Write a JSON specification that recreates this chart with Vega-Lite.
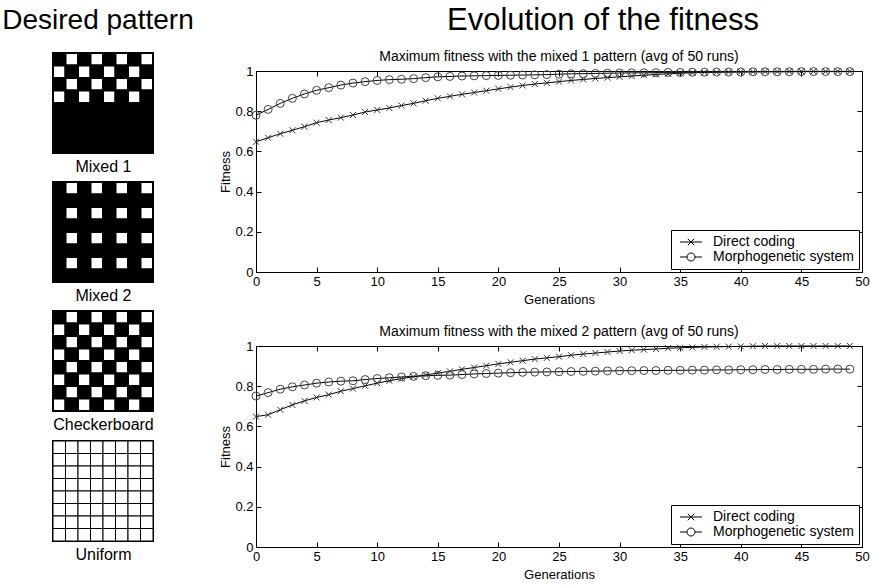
{
  "$schema": "https://vega.github.io/schema/vega-lite/v6.json",
  "background": "white",
  "padding": {"left": 2, "top": 4, "right": 0, "bottom": 0},
  "config": {
    "font": "Liberation Sans",
    "view": {"stroke": "black", "strokeWidth": 1},
    "axis": {"domainColor": "black", "tickColor": "black", "labelColor": "black", "titleColor": "black", "labelFontSize": 13, "titleFontSize": 13, "titleFontWeight": "normal", "grid": false, "tickSize": -5, "labelPadding": 8, "titlePadding": 5, "labelFlush": false},
    "title": {"color": "black", "fontWeight": "normal"}
  },
  "datasets": {
    "titles": [{"t": "Desired pattern", "col": "left"}, {"t": "Evolution of the fitness", "col": "right"}],
    "patterns": [
      {"p":"m1","r":0,"c":0,"v":"b"},{"p":"m1","r":0,"c":1,"v":"w"},{"p":"m1","r":0,"c":2,"v":"b"},{"p":"m1","r":0,"c":3,"v":"w"},{"p":"m1","r":0,"c":4,"v":"b"},{"p":"m1","r":0,"c":5,"v":"w"},{"p":"m1","r":0,"c":6,"v":"b"},{"p":"m1","r":0,"c":7,"v":"w"},
      {"p":"m1","r":1,"c":0,"v":"w"},{"p":"m1","r":1,"c":1,"v":"b"},{"p":"m1","r":1,"c":2,"v":"w"},{"p":"m1","r":1,"c":3,"v":"b"},{"p":"m1","r":1,"c":4,"v":"w"},{"p":"m1","r":1,"c":5,"v":"b"},{"p":"m1","r":1,"c":6,"v":"w"},{"p":"m1","r":1,"c":7,"v":"b"},
      {"p":"m1","r":2,"c":0,"v":"b"},{"p":"m1","r":2,"c":1,"v":"w"},{"p":"m1","r":2,"c":2,"v":"b"},{"p":"m1","r":2,"c":3,"v":"w"},{"p":"m1","r":2,"c":4,"v":"b"},{"p":"m1","r":2,"c":5,"v":"w"},{"p":"m1","r":2,"c":6,"v":"b"},{"p":"m1","r":2,"c":7,"v":"w"},
      {"p":"m1","r":3,"c":0,"v":"w"},{"p":"m1","r":3,"c":1,"v":"b"},{"p":"m1","r":3,"c":2,"v":"w"},{"p":"m1","r":3,"c":3,"v":"b"},{"p":"m1","r":3,"c":4,"v":"w"},{"p":"m1","r":3,"c":5,"v":"b"},{"p":"m1","r":3,"c":6,"v":"w"},{"p":"m1","r":3,"c":7,"v":"b"},
      {"p":"m1","r":4,"c":0,"v":"b"},{"p":"m1","r":4,"c":1,"v":"b"},{"p":"m1","r":4,"c":2,"v":"b"},{"p":"m1","r":4,"c":3,"v":"b"},{"p":"m1","r":4,"c":4,"v":"b"},{"p":"m1","r":4,"c":5,"v":"b"},{"p":"m1","r":4,"c":6,"v":"b"},{"p":"m1","r":4,"c":7,"v":"b"},
      {"p":"m1","r":5,"c":0,"v":"b"},{"p":"m1","r":5,"c":1,"v":"b"},{"p":"m1","r":5,"c":2,"v":"b"},{"p":"m1","r":5,"c":3,"v":"b"},{"p":"m1","r":5,"c":4,"v":"b"},{"p":"m1","r":5,"c":5,"v":"b"},{"p":"m1","r":5,"c":6,"v":"b"},{"p":"m1","r":5,"c":7,"v":"b"},
      {"p":"m1","r":6,"c":0,"v":"b"},{"p":"m1","r":6,"c":1,"v":"b"},{"p":"m1","r":6,"c":2,"v":"b"},{"p":"m1","r":6,"c":3,"v":"b"},{"p":"m1","r":6,"c":4,"v":"b"},{"p":"m1","r":6,"c":5,"v":"b"},{"p":"m1","r":6,"c":6,"v":"b"},{"p":"m1","r":6,"c":7,"v":"b"},
      {"p":"m1","r":7,"c":0,"v":"b"},{"p":"m1","r":7,"c":1,"v":"b"},{"p":"m1","r":7,"c":2,"v":"b"},{"p":"m1","r":7,"c":3,"v":"b"},{"p":"m1","r":7,"c":4,"v":"b"},{"p":"m1","r":7,"c":5,"v":"b"},{"p":"m1","r":7,"c":6,"v":"b"},{"p":"m1","r":7,"c":7,"v":"b"},
      {"p":"m2","r":0,"c":0,"v":"b"},{"p":"m2","r":0,"c":1,"v":"w"},{"p":"m2","r":0,"c":2,"v":"b"},{"p":"m2","r":0,"c":3,"v":"w"},{"p":"m2","r":0,"c":4,"v":"b"},{"p":"m2","r":0,"c":5,"v":"w"},{"p":"m2","r":0,"c":6,"v":"b"},{"p":"m2","r":0,"c":7,"v":"w"},
      {"p":"m2","r":1,"c":0,"v":"b"},{"p":"m2","r":1,"c":1,"v":"b"},{"p":"m2","r":1,"c":2,"v":"b"},{"p":"m2","r":1,"c":3,"v":"b"},{"p":"m2","r":1,"c":4,"v":"b"},{"p":"m2","r":1,"c":5,"v":"b"},{"p":"m2","r":1,"c":6,"v":"b"},{"p":"m2","r":1,"c":7,"v":"b"},
      {"p":"m2","r":2,"c":0,"v":"b"},{"p":"m2","r":2,"c":1,"v":"w"},{"p":"m2","r":2,"c":2,"v":"b"},{"p":"m2","r":2,"c":3,"v":"w"},{"p":"m2","r":2,"c":4,"v":"b"},{"p":"m2","r":2,"c":5,"v":"w"},{"p":"m2","r":2,"c":6,"v":"b"},{"p":"m2","r":2,"c":7,"v":"w"},
      {"p":"m2","r":3,"c":0,"v":"b"},{"p":"m2","r":3,"c":1,"v":"b"},{"p":"m2","r":3,"c":2,"v":"b"},{"p":"m2","r":3,"c":3,"v":"b"},{"p":"m2","r":3,"c":4,"v":"b"},{"p":"m2","r":3,"c":5,"v":"b"},{"p":"m2","r":3,"c":6,"v":"b"},{"p":"m2","r":3,"c":7,"v":"b"},
      {"p":"m2","r":4,"c":0,"v":"b"},{"p":"m2","r":4,"c":1,"v":"w"},{"p":"m2","r":4,"c":2,"v":"b"},{"p":"m2","r":4,"c":3,"v":"w"},{"p":"m2","r":4,"c":4,"v":"b"},{"p":"m2","r":4,"c":5,"v":"w"},{"p":"m2","r":4,"c":6,"v":"b"},{"p":"m2","r":4,"c":7,"v":"w"},
      {"p":"m2","r":5,"c":0,"v":"b"},{"p":"m2","r":5,"c":1,"v":"b"},{"p":"m2","r":5,"c":2,"v":"b"},{"p":"m2","r":5,"c":3,"v":"b"},{"p":"m2","r":5,"c":4,"v":"b"},{"p":"m2","r":5,"c":5,"v":"b"},{"p":"m2","r":5,"c":6,"v":"b"},{"p":"m2","r":5,"c":7,"v":"b"},
      {"p":"m2","r":6,"c":0,"v":"b"},{"p":"m2","r":6,"c":1,"v":"w"},{"p":"m2","r":6,"c":2,"v":"b"},{"p":"m2","r":6,"c":3,"v":"w"},{"p":"m2","r":6,"c":4,"v":"b"},{"p":"m2","r":6,"c":5,"v":"w"},{"p":"m2","r":6,"c":6,"v":"b"},{"p":"m2","r":6,"c":7,"v":"w"},
      {"p":"m2","r":7,"c":0,"v":"b"},{"p":"m2","r":7,"c":1,"v":"b"},{"p":"m2","r":7,"c":2,"v":"b"},{"p":"m2","r":7,"c":3,"v":"b"},{"p":"m2","r":7,"c":4,"v":"b"},{"p":"m2","r":7,"c":5,"v":"b"},{"p":"m2","r":7,"c":6,"v":"b"},{"p":"m2","r":7,"c":7,"v":"b"},
      {"p":"cb","r":0,"c":0,"v":"b"},{"p":"cb","r":0,"c":1,"v":"w"},{"p":"cb","r":0,"c":2,"v":"b"},{"p":"cb","r":0,"c":3,"v":"w"},{"p":"cb","r":0,"c":4,"v":"b"},{"p":"cb","r":0,"c":5,"v":"w"},{"p":"cb","r":0,"c":6,"v":"b"},{"p":"cb","r":0,"c":7,"v":"w"},
      {"p":"cb","r":1,"c":0,"v":"w"},{"p":"cb","r":1,"c":1,"v":"b"},{"p":"cb","r":1,"c":2,"v":"w"},{"p":"cb","r":1,"c":3,"v":"b"},{"p":"cb","r":1,"c":4,"v":"w"},{"p":"cb","r":1,"c":5,"v":"b"},{"p":"cb","r":1,"c":6,"v":"w"},{"p":"cb","r":1,"c":7,"v":"b"},
      {"p":"cb","r":2,"c":0,"v":"b"},{"p":"cb","r":2,"c":1,"v":"w"},{"p":"cb","r":2,"c":2,"v":"b"},{"p":"cb","r":2,"c":3,"v":"w"},{"p":"cb","r":2,"c":4,"v":"b"},{"p":"cb","r":2,"c":5,"v":"w"},{"p":"cb","r":2,"c":6,"v":"b"},{"p":"cb","r":2,"c":7,"v":"w"},
      {"p":"cb","r":3,"c":0,"v":"w"},{"p":"cb","r":3,"c":1,"v":"b"},{"p":"cb","r":3,"c":2,"v":"w"},{"p":"cb","r":3,"c":3,"v":"b"},{"p":"cb","r":3,"c":4,"v":"w"},{"p":"cb","r":3,"c":5,"v":"b"},{"p":"cb","r":3,"c":6,"v":"w"},{"p":"cb","r":3,"c":7,"v":"b"},
      {"p":"cb","r":4,"c":0,"v":"b"},{"p":"cb","r":4,"c":1,"v":"w"},{"p":"cb","r":4,"c":2,"v":"b"},{"p":"cb","r":4,"c":3,"v":"w"},{"p":"cb","r":4,"c":4,"v":"b"},{"p":"cb","r":4,"c":5,"v":"w"},{"p":"cb","r":4,"c":6,"v":"b"},{"p":"cb","r":4,"c":7,"v":"w"},
      {"p":"cb","r":5,"c":0,"v":"w"},{"p":"cb","r":5,"c":1,"v":"b"},{"p":"cb","r":5,"c":2,"v":"w"},{"p":"cb","r":5,"c":3,"v":"b"},{"p":"cb","r":5,"c":4,"v":"w"},{"p":"cb","r":5,"c":5,"v":"b"},{"p":"cb","r":5,"c":6,"v":"w"},{"p":"cb","r":5,"c":7,"v":"b"},
      {"p":"cb","r":6,"c":0,"v":"b"},{"p":"cb","r":6,"c":1,"v":"w"},{"p":"cb","r":6,"c":2,"v":"b"},{"p":"cb","r":6,"c":3,"v":"w"},{"p":"cb","r":6,"c":4,"v":"b"},{"p":"cb","r":6,"c":5,"v":"w"},{"p":"cb","r":6,"c":6,"v":"b"},{"p":"cb","r":6,"c":7,"v":"w"},
      {"p":"cb","r":7,"c":0,"v":"w"},{"p":"cb","r":7,"c":1,"v":"b"},{"p":"cb","r":7,"c":2,"v":"w"},{"p":"cb","r":7,"c":3,"v":"b"},{"p":"cb","r":7,"c":4,"v":"w"},{"p":"cb","r":7,"c":5,"v":"b"},{"p":"cb","r":7,"c":6,"v":"w"},{"p":"cb","r":7,"c":7,"v":"b"},
      {"p":"u","r":0,"c":0,"v":"w"},{"p":"u","r":0,"c":1,"v":"w"},{"p":"u","r":0,"c":2,"v":"w"},{"p":"u","r":0,"c":3,"v":"w"},{"p":"u","r":0,"c":4,"v":"w"},{"p":"u","r":0,"c":5,"v":"w"},{"p":"u","r":0,"c":6,"v":"w"},{"p":"u","r":0,"c":7,"v":"w"},
      {"p":"u","r":1,"c":0,"v":"w"},{"p":"u","r":1,"c":1,"v":"w"},{"p":"u","r":1,"c":2,"v":"w"},{"p":"u","r":1,"c":3,"v":"w"},{"p":"u","r":1,"c":4,"v":"w"},{"p":"u","r":1,"c":5,"v":"w"},{"p":"u","r":1,"c":6,"v":"w"},{"p":"u","r":1,"c":7,"v":"w"},
      {"p":"u","r":2,"c":0,"v":"w"},{"p":"u","r":2,"c":1,"v":"w"},{"p":"u","r":2,"c":2,"v":"w"},{"p":"u","r":2,"c":3,"v":"w"},{"p":"u","r":2,"c":4,"v":"w"},{"p":"u","r":2,"c":5,"v":"w"},{"p":"u","r":2,"c":6,"v":"w"},{"p":"u","r":2,"c":7,"v":"w"},
      {"p":"u","r":3,"c":0,"v":"w"},{"p":"u","r":3,"c":1,"v":"w"},{"p":"u","r":3,"c":2,"v":"w"},{"p":"u","r":3,"c":3,"v":"w"},{"p":"u","r":3,"c":4,"v":"w"},{"p":"u","r":3,"c":5,"v":"w"},{"p":"u","r":3,"c":6,"v":"w"},{"p":"u","r":3,"c":7,"v":"w"},
      {"p":"u","r":4,"c":0,"v":"w"},{"p":"u","r":4,"c":1,"v":"w"},{"p":"u","r":4,"c":2,"v":"w"},{"p":"u","r":4,"c":3,"v":"w"},{"p":"u","r":4,"c":4,"v":"w"},{"p":"u","r":4,"c":5,"v":"w"},{"p":"u","r":4,"c":6,"v":"w"},{"p":"u","r":4,"c":7,"v":"w"},
      {"p":"u","r":5,"c":0,"v":"w"},{"p":"u","r":5,"c":1,"v":"w"},{"p":"u","r":5,"c":2,"v":"w"},{"p":"u","r":5,"c":3,"v":"w"},{"p":"u","r":5,"c":4,"v":"w"},{"p":"u","r":5,"c":5,"v":"w"},{"p":"u","r":5,"c":6,"v":"w"},{"p":"u","r":5,"c":7,"v":"w"},
      {"p":"u","r":6,"c":0,"v":"w"},{"p":"u","r":6,"c":1,"v":"w"},{"p":"u","r":6,"c":2,"v":"w"},{"p":"u","r":6,"c":3,"v":"w"},{"p":"u","r":6,"c":4,"v":"w"},{"p":"u","r":6,"c":5,"v":"w"},{"p":"u","r":6,"c":6,"v":"w"},{"p":"u","r":6,"c":7,"v":"w"},
      {"p":"u","r":7,"c":0,"v":"w"},{"p":"u","r":7,"c":1,"v":"w"},{"p":"u","r":7,"c":2,"v":"w"},{"p":"u","r":7,"c":3,"v":"w"},{"p":"u","r":7,"c":4,"v":"w"},{"p":"u","r":7,"c":5,"v":"w"},{"p":"u","r":7,"c":6,"v":"w"},{"p":"u","r":7,"c":7,"v":"w"}
    ],
    "fitness": [
      {"chart":1,"series":"Direct coding","gen":0,"fitness":0.648},{"chart":1,"series":"Direct coding","gen":1,"fitness":0.668},{"chart":1,"series":"Direct coding","gen":2,"fitness":0.688},{"chart":1,"series":"Direct coding","gen":3,"fitness":0.705},{"chart":1,"series":"Direct coding","gen":4,"fitness":0.723},
      {"chart":1,"series":"Direct coding","gen":5,"fitness":0.743},{"chart":1,"series":"Direct coding","gen":6,"fitness":0.756},{"chart":1,"series":"Direct coding","gen":7,"fitness":0.768},{"chart":1,"series":"Direct coding","gen":8,"fitness":0.781},{"chart":1,"series":"Direct coding","gen":9,"fitness":0.796},
      {"chart":1,"series":"Direct coding","gen":10,"fitness":0.806},{"chart":1,"series":"Direct coding","gen":11,"fitness":0.816},{"chart":1,"series":"Direct coding","gen":12,"fitness":0.828},{"chart":1,"series":"Direct coding","gen":13,"fitness":0.839},{"chart":1,"series":"Direct coding","gen":14,"fitness":0.852},
      {"chart":1,"series":"Direct coding","gen":15,"fitness":0.864},{"chart":1,"series":"Direct coding","gen":16,"fitness":0.874},{"chart":1,"series":"Direct coding","gen":17,"fitness":0.884},{"chart":1,"series":"Direct coding","gen":18,"fitness":0.893},{"chart":1,"series":"Direct coding","gen":19,"fitness":0.902},
      {"chart":1,"series":"Direct coding","gen":20,"fitness":0.911},{"chart":1,"series":"Direct coding","gen":21,"fitness":0.92},{"chart":1,"series":"Direct coding","gen":22,"fitness":0.928},{"chart":1,"series":"Direct coding","gen":23,"fitness":0.935},{"chart":1,"series":"Direct coding","gen":24,"fitness":0.941},
      {"chart":1,"series":"Direct coding","gen":25,"fitness":0.947},{"chart":1,"series":"Direct coding","gen":26,"fitness":0.953},{"chart":1,"series":"Direct coding","gen":27,"fitness":0.958},{"chart":1,"series":"Direct coding","gen":28,"fitness":0.963},{"chart":1,"series":"Direct coding","gen":29,"fitness":0.967},
      {"chart":1,"series":"Direct coding","gen":30,"fitness":0.971},{"chart":1,"series":"Direct coding","gen":31,"fitness":0.975},{"chart":1,"series":"Direct coding","gen":32,"fitness":0.979},{"chart":1,"series":"Direct coding","gen":33,"fitness":0.983},{"chart":1,"series":"Direct coding","gen":34,"fitness":0.986},
      {"chart":1,"series":"Direct coding","gen":35,"fitness":0.989},{"chart":1,"series":"Direct coding","gen":36,"fitness":0.991},{"chart":1,"series":"Direct coding","gen":37,"fitness":0.993},{"chart":1,"series":"Direct coding","gen":38,"fitness":0.994},{"chart":1,"series":"Direct coding","gen":39,"fitness":0.995},
      {"chart":1,"series":"Direct coding","gen":40,"fitness":0.996},{"chart":1,"series":"Direct coding","gen":41,"fitness":0.996},{"chart":1,"series":"Direct coding","gen":42,"fitness":0.997},{"chart":1,"series":"Direct coding","gen":43,"fitness":0.997},{"chart":1,"series":"Direct coding","gen":44,"fitness":0.998},
      {"chart":1,"series":"Direct coding","gen":45,"fitness":0.998},{"chart":1,"series":"Direct coding","gen":46,"fitness":0.998},{"chart":1,"series":"Direct coding","gen":47,"fitness":0.998},{"chart":1,"series":"Direct coding","gen":48,"fitness":0.998},{"chart":1,"series":"Direct coding","gen":49,"fitness":0.998},
      {"chart":1,"series":"Morphogenetic system","gen":0,"fitness":0.78},{"chart":1,"series":"Morphogenetic system","gen":1,"fitness":0.809},{"chart":1,"series":"Morphogenetic system","gen":2,"fitness":0.839},{"chart":1,"series":"Morphogenetic system","gen":3,"fitness":0.864},{"chart":1,"series":"Morphogenetic system","gen":4,"fitness":0.886},
      {"chart":1,"series":"Morphogenetic system","gen":5,"fitness":0.904},{"chart":1,"series":"Morphogenetic system","gen":6,"fitness":0.917},{"chart":1,"series":"Morphogenetic system","gen":7,"fitness":0.93},{"chart":1,"series":"Morphogenetic system","gen":8,"fitness":0.94},{"chart":1,"series":"Morphogenetic system","gen":9,"fitness":0.947},
      {"chart":1,"series":"Morphogenetic system","gen":10,"fitness":0.953},{"chart":1,"series":"Morphogenetic system","gen":11,"fitness":0.957},{"chart":1,"series":"Morphogenetic system","gen":12,"fitness":0.959},{"chart":1,"series":"Morphogenetic system","gen":13,"fitness":0.962},{"chart":1,"series":"Morphogenetic system","gen":14,"fitness":0.967},
      {"chart":1,"series":"Morphogenetic system","gen":15,"fitness":0.971},{"chart":1,"series":"Morphogenetic system","gen":16,"fitness":0.973},{"chart":1,"series":"Morphogenetic system","gen":17,"fitness":0.975},{"chart":1,"series":"Morphogenetic system","gen":18,"fitness":0.976},{"chart":1,"series":"Morphogenetic system","gen":19,"fitness":0.977},
      {"chart":1,"series":"Morphogenetic system","gen":20,"fitness":0.978},{"chart":1,"series":"Morphogenetic system","gen":21,"fitness":0.979},{"chart":1,"series":"Morphogenetic system","gen":22,"fitness":0.98},{"chart":1,"series":"Morphogenetic system","gen":23,"fitness":0.981},{"chart":1,"series":"Morphogenetic system","gen":24,"fitness":0.982},
      {"chart":1,"series":"Morphogenetic system","gen":25,"fitness":0.984},{"chart":1,"series":"Morphogenetic system","gen":26,"fitness":0.986},{"chart":1,"series":"Morphogenetic system","gen":27,"fitness":0.987},{"chart":1,"series":"Morphogenetic system","gen":28,"fitness":0.988},{"chart":1,"series":"Morphogenetic system","gen":29,"fitness":0.989},
      {"chart":1,"series":"Morphogenetic system","gen":30,"fitness":0.99},{"chart":1,"series":"Morphogenetic system","gen":31,"fitness":0.991},{"chart":1,"series":"Morphogenetic system","gen":32,"fitness":0.991},{"chart":1,"series":"Morphogenetic system","gen":33,"fitness":0.992},{"chart":1,"series":"Morphogenetic system","gen":34,"fitness":0.993},
      {"chart":1,"series":"Morphogenetic system","gen":35,"fitness":0.993},{"chart":1,"series":"Morphogenetic system","gen":36,"fitness":0.994},{"chart":1,"series":"Morphogenetic system","gen":37,"fitness":0.994},{"chart":1,"series":"Morphogenetic system","gen":38,"fitness":0.995},{"chart":1,"series":"Morphogenetic system","gen":39,"fitness":0.995},
      {"chart":1,"series":"Morphogenetic system","gen":40,"fitness":0.995},{"chart":1,"series":"Morphogenetic system","gen":41,"fitness":0.996},{"chart":1,"series":"Morphogenetic system","gen":42,"fitness":0.996},{"chart":1,"series":"Morphogenetic system","gen":43,"fitness":0.996},{"chart":1,"series":"Morphogenetic system","gen":44,"fitness":0.996},
      {"chart":1,"series":"Morphogenetic system","gen":45,"fitness":0.997},{"chart":1,"series":"Morphogenetic system","gen":46,"fitness":0.997},{"chart":1,"series":"Morphogenetic system","gen":47,"fitness":0.997},{"chart":1,"series":"Morphogenetic system","gen":48,"fitness":0.997},{"chart":1,"series":"Morphogenetic system","gen":49,"fitness":0.997},
      {"chart":2,"series":"Direct coding","gen":0,"fitness":0.649},{"chart":2,"series":"Direct coding","gen":1,"fitness":0.658},{"chart":2,"series":"Direct coding","gen":2,"fitness":0.683},{"chart":2,"series":"Direct coding","gen":3,"fitness":0.707},{"chart":2,"series":"Direct coding","gen":4,"fitness":0.727},
      {"chart":2,"series":"Direct coding","gen":5,"fitness":0.744},{"chart":2,"series":"Direct coding","gen":6,"fitness":0.758},{"chart":2,"series":"Direct coding","gen":7,"fitness":0.775},{"chart":2,"series":"Direct coding","gen":8,"fitness":0.788},{"chart":2,"series":"Direct coding","gen":9,"fitness":0.802},
      {"chart":2,"series":"Direct coding","gen":10,"fitness":0.815},{"chart":2,"series":"Direct coding","gen":11,"fitness":0.827},{"chart":2,"series":"Direct coding","gen":12,"fitness":0.838},{"chart":2,"series":"Direct coding","gen":13,"fitness":0.847},{"chart":2,"series":"Direct coding","gen":14,"fitness":0.856},
      {"chart":2,"series":"Direct coding","gen":15,"fitness":0.865},{"chart":2,"series":"Direct coding","gen":16,"fitness":0.874},{"chart":2,"series":"Direct coding","gen":17,"fitness":0.884},{"chart":2,"series":"Direct coding","gen":18,"fitness":0.893},{"chart":2,"series":"Direct coding","gen":19,"fitness":0.902},
      {"chart":2,"series":"Direct coding","gen":20,"fitness":0.911},{"chart":2,"series":"Direct coding","gen":21,"fitness":0.919},{"chart":2,"series":"Direct coding","gen":22,"fitness":0.927},{"chart":2,"series":"Direct coding","gen":23,"fitness":0.935},{"chart":2,"series":"Direct coding","gen":24,"fitness":0.941},
      {"chart":2,"series":"Direct coding","gen":25,"fitness":0.947},{"chart":2,"series":"Direct coding","gen":26,"fitness":0.954},{"chart":2,"series":"Direct coding","gen":27,"fitness":0.96},{"chart":2,"series":"Direct coding","gen":28,"fitness":0.965},{"chart":2,"series":"Direct coding","gen":29,"fitness":0.97},
      {"chart":2,"series":"Direct coding","gen":30,"fitness":0.975},{"chart":2,"series":"Direct coding","gen":31,"fitness":0.979},{"chart":2,"series":"Direct coding","gen":32,"fitness":0.982},{"chart":2,"series":"Direct coding","gen":33,"fitness":0.985},{"chart":2,"series":"Direct coding","gen":34,"fitness":0.989},
      {"chart":2,"series":"Direct coding","gen":35,"fitness":0.991},{"chart":2,"series":"Direct coding","gen":36,"fitness":0.993},{"chart":2,"series":"Direct coding","gen":37,"fitness":0.995},{"chart":2,"series":"Direct coding","gen":38,"fitness":0.996},{"chart":2,"series":"Direct coding","gen":39,"fitness":0.997},
      {"chart":2,"series":"Direct coding","gen":40,"fitness":0.998},{"chart":2,"series":"Direct coding","gen":41,"fitness":0.999},{"chart":2,"series":"Direct coding","gen":42,"fitness":1.0},{"chart":2,"series":"Direct coding","gen":43,"fitness":1.0},{"chart":2,"series":"Direct coding","gen":44,"fitness":1.0},
      {"chart":2,"series":"Direct coding","gen":45,"fitness":1.0},{"chart":2,"series":"Direct coding","gen":46,"fitness":1.0},{"chart":2,"series":"Direct coding","gen":47,"fitness":1.0},{"chart":2,"series":"Direct coding","gen":48,"fitness":1.0},{"chart":2,"series":"Direct coding","gen":49,"fitness":1.0},
      {"chart":2,"series":"Morphogenetic system","gen":0,"fitness":0.751},{"chart":2,"series":"Morphogenetic system","gen":1,"fitness":0.768},{"chart":2,"series":"Morphogenetic system","gen":2,"fitness":0.785},{"chart":2,"series":"Morphogenetic system","gen":3,"fitness":0.797},{"chart":2,"series":"Morphogenetic system","gen":4,"fitness":0.806},
      {"chart":2,"series":"Morphogenetic system","gen":5,"fitness":0.815},{"chart":2,"series":"Morphogenetic system","gen":6,"fitness":0.821},{"chart":2,"series":"Morphogenetic system","gen":7,"fitness":0.825},{"chart":2,"series":"Morphogenetic system","gen":8,"fitness":0.827},{"chart":2,"series":"Morphogenetic system","gen":9,"fitness":0.833},
      {"chart":2,"series":"Morphogenetic system","gen":10,"fitness":0.838},{"chart":2,"series":"Morphogenetic system","gen":11,"fitness":0.842},{"chart":2,"series":"Morphogenetic system","gen":12,"fitness":0.846},{"chart":2,"series":"Morphogenetic system","gen":13,"fitness":0.849},{"chart":2,"series":"Morphogenetic system","gen":14,"fitness":0.852},
      {"chart":2,"series":"Morphogenetic system","gen":15,"fitness":0.854},{"chart":2,"series":"Morphogenetic system","gen":16,"fitness":0.855},{"chart":2,"series":"Morphogenetic system","gen":17,"fitness":0.858},{"chart":2,"series":"Morphogenetic system","gen":18,"fitness":0.861},{"chart":2,"series":"Morphogenetic system","gen":19,"fitness":0.863},
      {"chart":2,"series":"Morphogenetic system","gen":20,"fitness":0.865},{"chart":2,"series":"Morphogenetic system","gen":21,"fitness":0.867},{"chart":2,"series":"Morphogenetic system","gen":22,"fitness":0.869},{"chart":2,"series":"Morphogenetic system","gen":23,"fitness":0.87},{"chart":2,"series":"Morphogenetic system","gen":24,"fitness":0.871},
      {"chart":2,"series":"Morphogenetic system","gen":25,"fitness":0.872},{"chart":2,"series":"Morphogenetic system","gen":26,"fitness":0.873},{"chart":2,"series":"Morphogenetic system","gen":27,"fitness":0.874},{"chart":2,"series":"Morphogenetic system","gen":28,"fitness":0.875},{"chart":2,"series":"Morphogenetic system","gen":29,"fitness":0.876},
      {"chart":2,"series":"Morphogenetic system","gen":30,"fitness":0.877},{"chart":2,"series":"Morphogenetic system","gen":31,"fitness":0.877},{"chart":2,"series":"Morphogenetic system","gen":32,"fitness":0.878},{"chart":2,"series":"Morphogenetic system","gen":33,"fitness":0.878},{"chart":2,"series":"Morphogenetic system","gen":34,"fitness":0.879},
      {"chart":2,"series":"Morphogenetic system","gen":35,"fitness":0.879},{"chart":2,"series":"Morphogenetic system","gen":36,"fitness":0.88},{"chart":2,"series":"Morphogenetic system","gen":37,"fitness":0.88},{"chart":2,"series":"Morphogenetic system","gen":38,"fitness":0.881},{"chart":2,"series":"Morphogenetic system","gen":39,"fitness":0.881},
      {"chart":2,"series":"Morphogenetic system","gen":40,"fitness":0.882},{"chart":2,"series":"Morphogenetic system","gen":41,"fitness":0.882},{"chart":2,"series":"Morphogenetic system","gen":42,"fitness":0.883},{"chart":2,"series":"Morphogenetic system","gen":43,"fitness":0.883},{"chart":2,"series":"Morphogenetic system","gen":44,"fitness":0.884},
      {"chart":2,"series":"Morphogenetic system","gen":45,"fitness":0.884},{"chart":2,"series":"Morphogenetic system","gen":46,"fitness":0.884},{"chart":2,"series":"Morphogenetic system","gen":47,"fitness":0.885},{"chart":2,"series":"Morphogenetic system","gen":48,"fitness":0.885},{"chart":2,"series":"Morphogenetic system","gen":49,"fitness":0.885}
    ]
  },
  "hconcat": [
    {
      "spacing": 7,
      "vconcat": [
        {
          "width": 100, "height": 37,
          "data": {"name": "titles"},
          "transform": [{"filter": "datum.col == 'left'"}],
          "view": {"stroke": null},
          "mark": {"type": "text", "fontSize": 28, "color": "black", "dy": -6, "dx": -5},
          "encoding": {"text": {"field": "t", "type": "nominal"}}
        },
        {
          "width": 100, "height": 100,
          "data": {"name": "patterns"},
          "transform": [{"filter": "datum.p == 'm1'"}],
          "view": {"stroke": null},
          "mark": {"type": "rect", "stroke": "black", "strokeWidth": 2},
          "encoding": {
            "x": {"field": "c", "type": "ordinal", "scale": {"paddingInner": 0, "paddingOuter": 0}, "axis": {"title": "Mixed 1", "labels": false, "ticks": false, "domain": false, "titleFontSize": 16, "titlePadding": 5}},
            "y": {"field": "r", "type": "ordinal", "axis": null, "scale": {"paddingInner": 0, "paddingOuter": 0}},
            "fill": {"field": "v", "type": "nominal", "scale": {"domain": ["b", "w"], "range": ["black", "white"]}, "legend": null}
          }
        },
        {
          "width": 100, "height": 100,
          "data": {"name": "patterns"},
          "transform": [{"filter": "datum.p == 'm2'"}],
          "view": {"stroke": null},
          "mark": {"type": "rect", "stroke": "black", "strokeWidth": 2},
          "encoding": {
            "x": {"field": "c", "type": "ordinal", "scale": {"paddingInner": 0, "paddingOuter": 0}, "axis": {"title": "Mixed 2", "labels": false, "ticks": false, "domain": false, "titleFontSize": 16, "titlePadding": 5}},
            "y": {"field": "r", "type": "ordinal", "axis": null, "scale": {"paddingInner": 0, "paddingOuter": 0}},
            "fill": {"field": "v", "type": "nominal", "scale": {"domain": ["b", "w"], "range": ["black", "white"]}, "legend": null}
          }
        },
        {
          "width": 100, "height": 100,
          "data": {"name": "patterns"},
          "transform": [{"filter": "datum.p == 'cb'"}],
          "view": {"stroke": null},
          "mark": {"type": "rect", "stroke": "black", "strokeWidth": 2},
          "encoding": {
            "x": {"field": "c", "type": "ordinal", "scale": {"paddingInner": 0, "paddingOuter": 0}, "axis": {"title": "Checkerboard", "labels": false, "ticks": false, "domain": false, "titleFontSize": 16, "titlePadding": 5}},
            "y": {"field": "r", "type": "ordinal", "axis": null, "scale": {"paddingInner": 0, "paddingOuter": 0}},
            "fill": {"field": "v", "type": "nominal", "scale": {"domain": ["b", "w"], "range": ["black", "white"]}, "legend": null}
          }
        },
        {
          "width": 100, "height": 100,
          "data": {"name": "patterns"},
          "transform": [{"filter": "datum.p == 'u'"}],
          "view": {"stroke": "black", "strokeWidth": 2},
          "mark": {"type": "rect", "stroke": "black", "strokeWidth": 1},
          "encoding": {
            "x": {"field": "c", "type": "ordinal", "scale": {"paddingInner": 0, "paddingOuter": 0}, "axis": {"title": "Uniform", "labels": false, "ticks": false, "domain": false, "titleFontSize": 16, "titlePadding": 5}},
            "y": {"field": "r", "type": "ordinal", "axis": null, "scale": {"paddingInner": 0, "paddingOuter": 0}},
            "fill": {"field": "v", "type": "nominal", "scale": {"domain": ["b", "w"], "range": ["black", "white"]}, "legend": null}
          }
        }
      ]
    },
    {
      "spacing": 12,
      "resolve": {"scale": {"shape": "independent"}, "legend": {"shape": "independent"}},
      "vconcat": [
        {
          "width": 606, "height": 29,
          "data": {"name": "titles"},
          "transform": [{"filter": "datum.col == 'right'"}],
          "view": {"stroke": null},
          "mark": {"type": "text", "fontSize": 31, "color": "black", "dy": -2, "dx": 44},
          "encoding": {"text": {"field": "t", "type": "nominal"}}
        },
        {
          "spacing": 17,
          "resolve": {"scale": {"shape": "independent"}, "legend": {"shape": "independent"}},
          "vconcat": [
            {
              "width": 606, "height": 201,
              "data": {"name": "fitness"},
              "transform": [{"filter": "datum.chart == 1"}],
              "title": {"text": "Maximum fitness with the mixed 1 pattern (avg of 50 runs)", "fontSize": 14, "fontWeight": "normal", "offset": 1},
              "layer": [
                {
                  "encoding": {
                    "x": {"field": "gen", "type": "quantitative", "scale": {"domain": [0, 50], "nice": false, "zero": false}, "axis": {"orient": "bottom", "values": [0,5,10,15,20,25,30,35,40,45,50], "title": "Generations"}},
                    "y": {"field": "fitness", "type": "quantitative", "scale": {"domain": [0, 1], "nice": false}, "axis": {"orient": "left", "values": [0,0.2,0.4,0.6,0.8,1], "format": ".1~f", "title": "Fitness", "titlePadding": 2}}
                  },
                  "layer": [
                    {"mark": {"type": "line", "color": "black", "strokeWidth": 1}, "encoding": {"detail": {"field": "series", "type": "nominal"}}},
                    {"transform": [{"filter": "datum.series == 'Direct coding'"}], "mark": {"type": "point", "shape": "M-1,-1L1,1M-1,1L1,-1", "size": 36, "filled": false, "stroke": "#333", "strokeWidth": 1, "opacity": 1}},
                    {"transform": [{"filter": "datum.series == 'Morphogenetic system'"}], "mark": {"type": "point", "shape": "circle", "size": 64, "filled": false, "stroke": "#444", "strokeWidth": 1, "opacity": 1}}
                  ]
                },
                {
                  "mark": {"type": "point", "opacity": 0, "filled": false},
                  "encoding": {
                    "x": {"field": "gen", "type": "quantitative", "scale": {"domain": [0, 50], "nice": false, "zero": false}, "axis": {"orient": "top", "values": [0,5,10,15,20,25,30,35,40,45,50], "labels": false, "title": null}},
                    "y": {"field": "fitness", "type": "quantitative", "scale": {"domain": [0, 1], "nice": false}, "axis": {"orient": "right", "values": [0,0.2,0.4,0.6,0.8,1], "labels": false, "title": null}},
                    "shape": {"field": "series", "type": "nominal", "scale": {"domain": ["Direct coding", "Morphogenetic system"], "range": ["M-2.2,0L2.2,0M-0.65,-0.65L0.65,0.65M-0.65,0.65L0.65,-0.65", "M-2.2,0L-0.8,0M0.8,0L2.2,0M-0.8,0A0.8,0.8,0,1,1,0.8,0A0.8,0.8,0,1,1,-0.8,0Z"]},
                      "legend": {"title": null, "orient": "bottom-right", "offset": 3, "strokeColor": "black", "fillColor": "white", "padding": 5, "labelFontSize": 14, "labelColor": "black", "symbolSize": 100, "symbolStrokeColor": "black", "symbolFillColor": "white", "symbolStrokeWidth": 1, "symbolOpacity": 1, "rowPadding": 1, "symbolOffset": 8, "labelOffset": 15}}
                  }
                }
              ]
            },
            {
              "width": 606, "height": 201,
              "data": {"name": "fitness"},
              "transform": [{"filter": "datum.chart == 2"}],
              "title": {"text": "Maximum fitness with the mixed 2 pattern (avg of 50 runs)", "fontSize": 14, "fontWeight": "normal", "offset": 1},
              "layer": [
                {
                  "encoding": {
                    "x": {"field": "gen", "type": "quantitative", "scale": {"domain": [0, 50], "nice": false, "zero": false}, "axis": {"orient": "bottom", "values": [0,5,10,15,20,25,30,35,40,45,50], "title": "Generations"}},
                    "y": {"field": "fitness", "type": "quantitative", "scale": {"domain": [0, 1], "nice": false}, "axis": {"orient": "left", "values": [0,0.2,0.4,0.6,0.8,1], "format": ".1~f", "title": "Fitness", "titlePadding": 2}}
                  },
                  "layer": [
                    {"mark": {"type": "line", "color": "black", "strokeWidth": 1}, "encoding": {"detail": {"field": "series", "type": "nominal"}}},
                    {"transform": [{"filter": "datum.series == 'Direct coding'"}], "mark": {"type": "point", "shape": "M-1,-1L1,1M-1,1L1,-1", "size": 36, "filled": false, "stroke": "#333", "strokeWidth": 1, "opacity": 1}},
                    {"transform": [{"filter": "datum.series == 'Morphogenetic system'"}], "mark": {"type": "point", "shape": "circle", "size": 64, "filled": false, "stroke": "#444", "strokeWidth": 1, "opacity": 1}}
                  ]
                },
                {
                  "mark": {"type": "point", "opacity": 0, "filled": false},
                  "encoding": {
                    "x": {"field": "gen", "type": "quantitative", "scale": {"domain": [0, 50], "nice": false, "zero": false}, "axis": {"orient": "top", "values": [0,5,10,15,20,25,30,35,40,45,50], "labels": false, "title": null}},
                    "y": {"field": "fitness", "type": "quantitative", "scale": {"domain": [0, 1], "nice": false}, "axis": {"orient": "right", "values": [0,0.2,0.4,0.6,0.8,1], "labels": false, "title": null}},
                    "shape": {"field": "series", "type": "nominal", "scale": {"domain": ["Direct coding", "Morphogenetic system"], "range": ["M-2.2,0L2.2,0M-0.65,-0.65L0.65,0.65M-0.65,0.65L0.65,-0.65", "M-2.2,0L-0.8,0M0.8,0L2.2,0M-0.8,0A0.8,0.8,0,1,1,0.8,0A0.8,0.8,0,1,1,-0.8,0Z"]},
                      "legend": {"title": null, "orient": "bottom-right", "offset": 3, "strokeColor": "black", "fillColor": "white", "padding": 5, "labelFontSize": 14, "labelColor": "black", "symbolSize": 100, "symbolStrokeColor": "black", "symbolFillColor": "white", "symbolStrokeWidth": 1, "symbolOpacity": 1, "rowPadding": 1, "symbolOffset": 8, "labelOffset": 15}}
                  }
                }
              ]
            }
          ]
        }
      ]
    }
  ],
  "spacing": 25
}
